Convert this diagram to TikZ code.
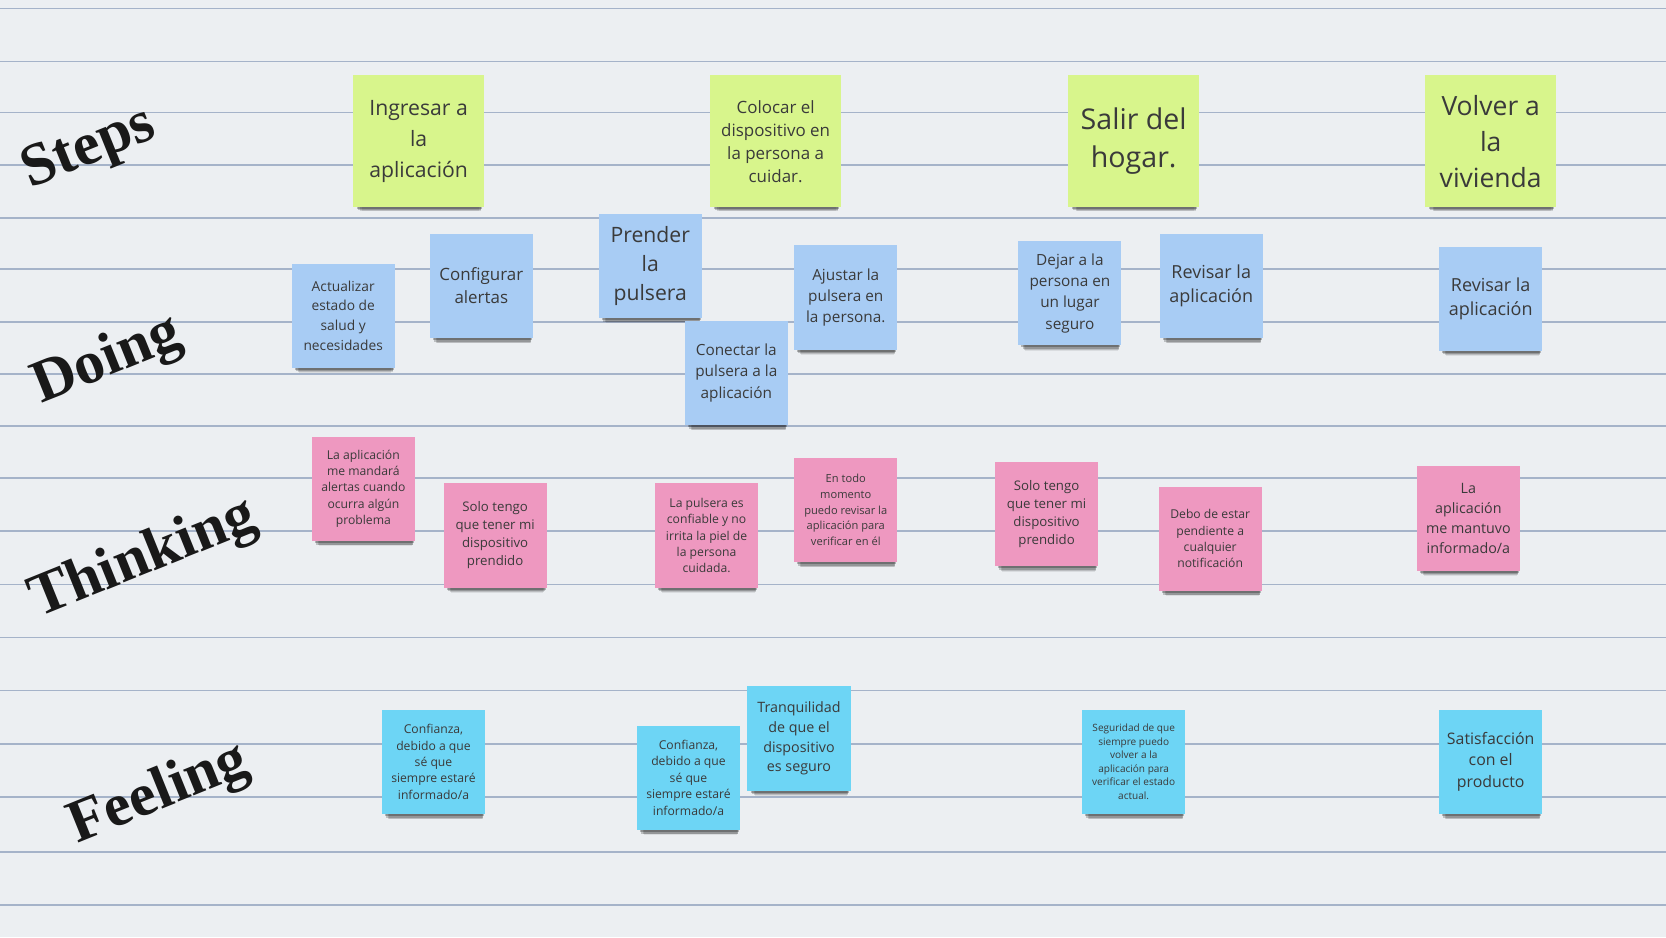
\documentclass[tikz,border=0pt]{standalone}
\usepackage{fontspec}
\setmainfont{Open Sans}
\newfontfamily\labelfont{Liberation Serif}
\usetikzlibrary{shadows}
\definecolor{paper}{HTML}{ECEFF2}
\definecolor{ruling}{HTML}{A5B3C9}
\definecolor{stepcol}{HTML}{D8F58C}
\definecolor{doingcol}{HTML}{A8CCF4}
\definecolor{thinkcol}{HTML}{EE98C0}
\definecolor{feelcol}{HTML}{6DD5F5}
\definecolor{inkgray}{HTML}{3A3A3A}
\newcommand\nf[2]{\fontsize{#1}{#2}\selectfont}
\begin{document}
\begin{tikzpicture}[x=1bp, y=-1bp,
    note/.style={align=center, inner sep=0pt, text=inkgray, minimum width=97bp, minimum height=98bp,
        drop shadow={shadow xshift=2bp, shadow yshift=-11bp, shadow scale=.90, opacity=.08, fill=black},
        drop shadow={shadow xshift=2bp, shadow yshift=-9bp, shadow scale=.92, opacity=.14, fill=black},
        drop shadow={shadow xshift=1bp, shadow yshift=-7bp, shadow scale=.94, opacity=.2, fill=black},
        drop shadow={shadow xshift=1bp, shadow yshift=-4bp, shadow scale=.96, opacity=.25, fill=black}},
    stepnote/.style={note, fill=stepcol, minimum width=123bp, minimum height=124bp},
    doingnote/.style={note, fill=doingcol},
    thinknote/.style={note, fill=thinkcol},
    feelnote/.style={note, fill=feelcol},
    rowlabel/.style={rotate=22, font=\labelfont\bfseries\fontsize{57}{60}\selectfont, text=black!90}]

\fill[paper](0,0)rectangle(1568,882);
\useasboundingbox(0,0)rectangle(1568,882);
\foreach \ly in {8,58,106,155,205,253,303,352,401,450,500,550,600,650,700,750,802,852}
    \draw[ruling, line width=1.6bp](0,\ly)--(1568,\ly);

\node[rowlabel] (lblsteps) at (84,141){Steps};
\node[rowlabel] (lbldoing) at (101,340){Doing};
\node[rowlabel] (lblthinking) at (135,527){Thinking};
\node[rowlabel] (lblfeeling) at (150,748){Feeling};

% steps
\node[stepnote, font=\nf{20}{29}] (s1) at (394,133){Ingresar a\\la\\aplicación};
\node[stepnote, font=\nf{16}{21.7}] (s2) at (730,133){Colocar el\\dispositivo en\\la persona a\\cuidar.};
\node[stepnote, font=\nf{27}{36}] (s3) at (1067,133){Salir del\\hogar.};
\node[stepnote, font=\nf{25}{34}] (s4) at (1403,133){Volver a\\la\\vivienda};

% doing
\node[doingnote, font=\nf{13}{18.7}] (d1) at (323,297){Actualizar\\estado de\\salud y\\necesidades};
\node[doingnote, font=\nf{16}{22}] (d2) at (453,269){Configurar\\alertas};
\node[doingnote, font=\nf{20}{27.5}] (d3) at (612,250){Prender\\la\\pulsera};
\node[doingnote, font=\nf{14.5}{20}] (d5) at (796,280){Ajustar la\\pulsera en\\la persona.};
\node[doingnote, font=\nf{14.5}{20}] (d4) at (693,351){Conectar la\\pulsera a la\\aplicación};
\node[doingnote, font=\nf{14.5}{20.3}] (d6) at (1007,276){Dejar a la\\persona en\\un lugar\\seguro};
\node[doingnote, font=\nf{17}{23}] (d7) at (1140,269){Revisar la\\aplicación};
\node[doingnote, font=\nf{17}{23}] (d8) at (1403,281){Revisar la\\aplicación};

% thinking
\node[thinknote, font=\nf{11.5}{15.5}] (t1) at (342,460){La aplicación\\me mandará\\alertas cuando\\ocurra algún\\problema};
\node[thinknote, font=\nf{12.5}{17}] (t2) at (466,504){Solo tengo\\que tener mi\\dispositivo\\prendido};
\node[thinknote, font=\nf{11.5}{15.5}] (t3) at (665,504){La pulsera es\\confiable y no\\irrita la piel de\\la persona\\cuidada.};
\node[thinknote, font=\nf{10.5}{14.8}] (t4) at (796,480){En todo\\momento\\puedo revisar la\\aplicación para\\verificar en él};
\node[thinknote, font=\nf{12.5}{17}] (t5) at (985,484){Solo tengo\\que tener mi\\dispositivo\\prendido};
\node[thinknote, font=\nf{11.5}{15.5}] (t6) at (1139,507){Debo de estar\\pendiente a\\cualquier\\notificación};
\node[thinknote, font=\nf{13.5}{18.7}] (t7) at (1382,488){La\\aplicación\\me mantuvo\\informado/a};

% feeling
\node[feelnote, font=\nf{11.5}{15.5}] (f1) at (408,717){Confianza,\\debido a que\\sé que\\siempre estaré\\informado/a};
\node[feelnote, font=\nf{11.5}{15.5}] (f2) at (648,732){Confianza,\\debido a que\\sé que\\siempre estaré\\informado/a};
\node[feelnote, font=\nf{13.5}{18.7}] (f3) at (752,695){Tranquilidad\\de que el\\dispositivo\\es seguro};
\node[feelnote, font=\nf{9.5}{12.8}] (f4) at (1067,717){Seguridad de que\\siempre puedo\\volver a la\\aplicación para\\verificar el estado\\actual.};
\node[feelnote, font=\nf{15}{20}] (f5) at (1403,717){Satisfacción\\con el\\producto};

\end{tikzpicture}
\end{document}
